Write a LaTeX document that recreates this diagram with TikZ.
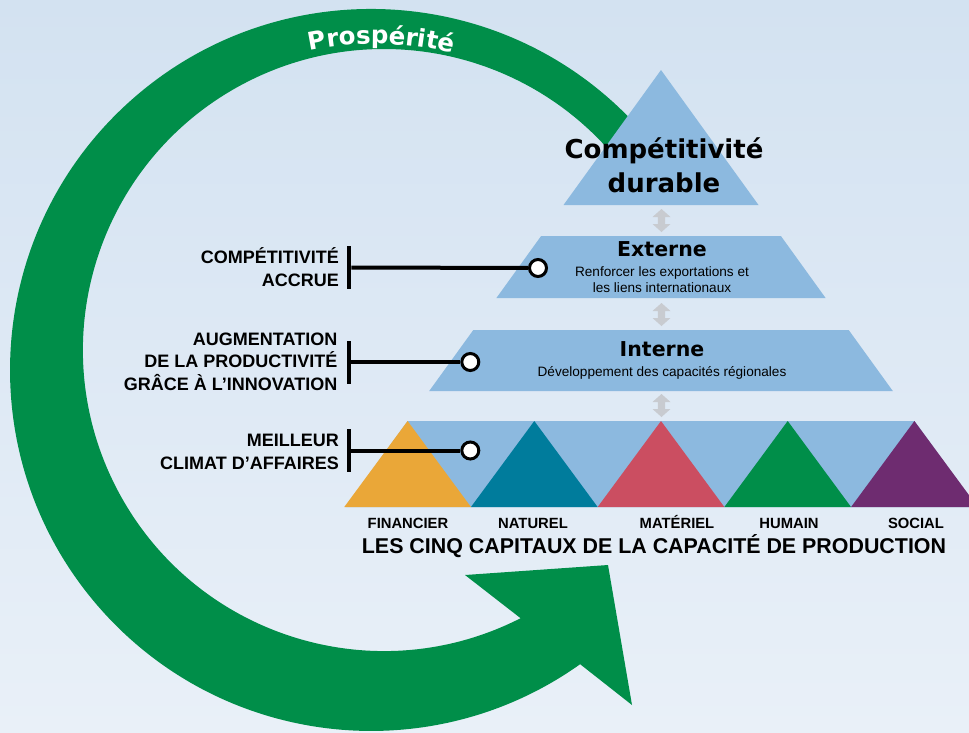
\documentclass[tikz,border=0pt]{standalone}
\usepackage{fontspec}
\setmainfont{Liberation Sans}
\newfontfamily\dvs{DejaVu Sans}
\usetikzlibrary{decorations.text}
\definecolor{bgtop}{RGB}{211,226,241}
\definecolor{bgbot}{RGB}{233,240,248}
\definecolor{pyr}{RGB}{140,185,223}
\definecolor{arcgreen}{RGB}{0,142,73}
\definecolor{cfin}{RGB}{234,167,56}
\definecolor{cnat}{RGB}{0,124,156}
\definecolor{cmat}{RGB}{203,78,97}
\definecolor{chum}{RGB}{0,142,73}
\definecolor{csoc}{RGB}{110,44,112}
\definecolor{dblgray}{RGB}{200,203,208}
\begin{document}
\begin{tikzpicture}[x=1pt,y=-1pt,
  lbl/.style={anchor=base east, inner sep=0pt, font=\bfseries\fontsize{18}{21}\selectfont},
  capname/.style={anchor=base, inner sep=0pt, font=\bfseries\fontsize{14.8}{18}\selectfont},
  bigtitle/.style={anchor=base, inner sep=0pt, font=\dvs\bfseries\fontsize{26}{30}\selectfont},
  lvltitle/.style={anchor=base, inner sep=0pt, font=\dvs\bfseries\fontsize{20.5}{24}\selectfont},
  lvltext/.style={anchor=base, inner sep=0pt, font=\fontsize{13.6}{16}\selectfont},
  barnode/.style={rectangle, fill=black, inner sep=0pt, minimum width=4.4pt, minimum height=43pt},
  dotnode/.style={circle, draw=black, line width=3pt, fill=white, minimum size=17pt, inner sep=0pt},
  linkline/.style={line width=4pt},
  dblarrow/.pic={\fill[dblgray] (0,-11.5) -- (9,-3.5) -- (3.6,-3.5) -- (3.6,3.5) -- (9,3.5) -- (0,11.5) -- (-9,3.5) -- (-3.6,3.5) -- (-3.6,-3.5) -- (-9,-3.5) -- cycle;}
]
\useasboundingbox (0,0) rectangle (969,732);
\clip (0,0) rectangle (969,732);
% background
\shade[top color=bgtop, bottom color=bgbot] (0,0) rectangle (969,732);

% green circular arrow
\fill[arcgreen] (639.3,128.4) arc[start angle=-42, end angle=-305.4, radius=361]
  -- (632,705) -- (608,565) -- (465,575) -- (520.6,618.2)
  arc[start angle=-297, end angle=-40, radius=301] -- cycle;
\path[decorate, decoration={text along path, text align=center,
  text={|\dvs\bfseries\fontsize{24.5}{25}\selectfont\color{white}|Prospérité}}]
  (193.6,101.5) arc[start angle=-125, end angle=-53, radius=318];

% pyramid levels
\fill[pyr] (661,70) -- (758.5,205) -- (563.5,205) -- cycle;
\fill[pyr] (541.1,236) -- (780.9,236) -- (825.6,298) -- (496.4,298) -- cycle;
\fill[pyr] (473.3,330) -- (848.7,330) -- (892.8,391) -- (429.2,391) -- cycle;
\fill[pyr] (407.6,421) -- (914.4,421) -- (976.5,507) -- (345.5,507) -- cycle;
\fill[cfin] (407.6,421) -- (470.95,507) -- (344.25,507) -- cycle;
\fill[cnat] (534.3,421) -- (597.65,507) -- (470.95,507) -- cycle;
\fill[cmat] (661,421) -- (724.35,507) -- (597.65,507) -- cycle;
\fill[chum] (787.7,421) -- (851.05,507) -- (724.35,507) -- cycle;
\fill[csoc] (914.4,421) -- (977.75,507) -- (851.05,507) -- cycle;

% double arrows between levels
\pic at (661.5,220.5) {dblarrow};
\pic at (661.5,314.5) {dblarrow};
\pic at (661.5,405.5) {dblarrow};

% level texts
\node[bigtitle] (top1) at (664,158) {Compétitivité};
\node[bigtitle] (top2) at (664,192) {durable};
\node[lvltitle] (ext) at (662,256) {Externe};
\node[lvltext] (ext1) at (662,276) {Renforcer les exportations et};
\node[lvltext] (ext2) at (662,292.5) {les liens internationaux};
\node[lvltitle] (int) at (662,356) {Interne};
\node[lvltext] (int1) at (662,376) {Développement des capacités régionales};

% capital names
\node[capname] (fin) at (408,528) {FINANCIER};
\node[capname] (nat) at (533,528) {NATUREL};
\node[capname] (mat) at (677,528) {MATÉRIEL};
\node[capname] (hum) at (789,528) {HUMAIN};
\node[capname] (soc) at (916,528) {SOCIAL};
\node[anchor=base, inner sep=0pt, font=\bfseries\fontsize{21.4}{24}\selectfont] (cinq) at (654,553) {LES CINQ CAPITAUX DE LA CAPACITÉ DE PRODUCTION};

% left labels
\node[lbl] (l1a) at (339,263.3) {COMPÉTITIVITÉ};
\node[lbl] (l1b) at (339,286) {ACCRUE};
\node[lbl] (l2a) at (337.5,345) {AUGMENTATION};
\node[lbl] (l2b) at (337.5,367.7) {DE LA PRODUCTIVITÉ};
\node[lbl] (l2c) at (337.5,390.3) {GRÂCE À L’INNOVATION};
\node[lbl] (l3a) at (339,446.7) {MEILLEUR};
\node[lbl] (l3b) at (339,469.3) {CLIMAT D’AFFAIRES};

% bars, links and dots
\node[barnode] (bar1) at (349,267.5) {};
\node[barnode] (bar2) at (349,362) {};
\node[barnode] (bar3) at (349,450.5) {};
\node[dotnode] (dot1) at (538,268) {};
\node[dotnode] (dot2) at (470.3,362) {};
\node[dotnode] (dot3) at (470.3,450.5) {};
\draw[linkline] (bar1) -- (dot1);
\draw[linkline] (bar2) -- (dot2);
\draw[linkline] (bar3) -- (dot3);
\end{tikzpicture}
\end{document}
